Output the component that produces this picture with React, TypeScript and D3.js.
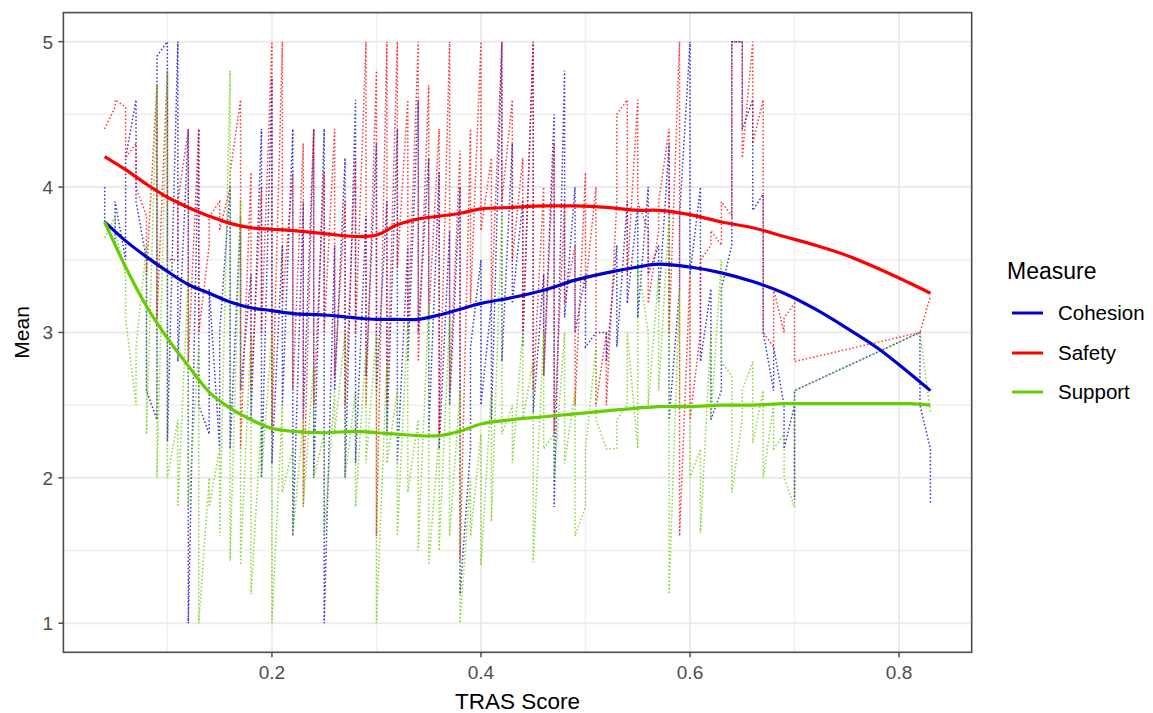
import React from "react";
import * as d3 from "d3";

// TRAS score positions (x values shared by all three measures)
const xValues = [
  0.04, 0.05, 0.06, 0.07, 0.08, 0.09, 0.10, 0.11, 0.12, 0.13, 0.14, 0.15, 0.16, 0.17, 0.18, 0.19,
  0.20, 0.21, 0.22, 0.23, 0.24, 0.25, 0.26, 0.27, 0.28, 0.29, 0.30, 0.31, 0.32, 0.33, 0.34, 0.35,
  0.36, 0.37, 0.38, 0.39, 0.40, 0.41, 0.42, 0.43, 0.44, 0.45, 0.46, 0.47, 0.48, 0.49, 0.50, 0.51,
  0.52, 0.53, 0.54, 0.55, 0.56, 0.57, 0.58, 0.59, 0.60, 0.61, 0.62, 0.63, 0.64, 0.65, 0.66, 0.67,
  0.68, 0.69, 0.70, 0.82, 0.83,
];

// Observed means at each x (several respondents share an x value)
const cohesionValues = [
  [4.0, 3.75], [3.6, 3.9], [3.5, 4.2], [4.6, 3.9], [3.5, 2.6], [2.4, 4.9], [5.0, 2.25], [5.0, 2.8],
  [4.4, 1.0], [4.4, 2.5], [2.3, 3.3], [2.2, 3.0], [4.0, 2.2], [3.8, 2.6], [3.4, 2.4], [4.4, 2.0],
  [4.75, 2.1], [3.6, 2.5], [4.4, 1.6], [3.9, 2.4], [4.4, 2.0], [4.4, 1.0], [3.6, 2.6], [4.2, 2.0],
  [4.6, 2.1], [3.8, 2.7], [4.3, 2.6], [3.9, 2.3], [4.4, 2.1], [3.6, 2.8], [4.6, 3.0], [4.2, 2.3],
  [4.1, 2.2], [3.7, 2.5], [4.0, 1.2], [2.2, 2.9], [3.5, 2.5], [3.2, 2.4], [5.0, 2.8], [4.3, 3.2],
  [3.9, 2.9], [5.0, 2.45], [3.4, 2.7], [4.5, 1.8], [4.8, 3.1], [4.0, 3.0], [3.4, 2.9], [3.0, 3.0],
  [3.0, 2.8], [3.6, 2.9], [3.9, 3.2], [3.87, 3.1], [4.0, 3.4], [3.6, 3.2], [4.3, 2.4], [3.3, 3.8],
  [5.0, 3.4], [4.0, 2.8], [3.3, 2.4], [2.6, 3.3], [3.6, 5.0], [5.0, 4.4], [4.6, 3.84], [3.95, 3.0],
  [2.6, 2.9], [2.5, 2.2], [2.5, 1.85, 2.6], [3.0, 2.5], [2.2, 1.83],
];

const safetyValues = [
  [4.4], [4.55, 4.6], [4.55, 4.2], [4.3, 4.0], [3.8, 3.4], [4.7, 3.1], [4.8, 3.5], [3.5, 3.9],
  [4.4, 2.8], [4.4, 3.0], [3.6, 3.8], [3.9, 3.7], [4.0, 4.1], [4.6, 2.2], [4.1, 2.6], [4.0, 3.0],
  [5.0, 2.3], [5.0, 3.2], [4.1, 2.6], [4.3, 1.8], [4.4, 2.5], [4.1, 3.0], [4.4, 2.7], [3.9, 2.5],
  [4.2, 3.0], [5.0, 2.5], [4.8, 1.6], [5.0, 2.5], [5.0, 3.45], [4.6, 3.0], [5.0, 2.8], [4.7, 3.1],
  [4.4, 2.3], [5.0, 2.6], [4.25, 1.43], [4.4, 3.2], [5.0, 3.7], [4.2, 3.2], [5.0, 3.9], [4.6, 3.5],
  [4.2, 3.0], [5.0, 2.6], [4.0, 2.7], [4.3, 2.3], [3.9, 3.2], [3.6, 2.5], [4.1, 3.3], [4.0, 2.5],
  [3.0, 2.5], [3.9, 4.5], [4.6, 3.4], [4.6, 3.9], [3.7, 3.2], [3.7, 3.9], [4.4, 3.0], [5.0, 1.6],
  [3.4, 2.4], [3.0, 3.5], [3.6, 3.7], [3.6, 3.9], [3.8, 5.0], [5.0, 4.2], [5.0, 4.3], [4.6, 3.0],
  [2.9, 3.3], [3.0, 3.1], [3.2, 2.8], [3.0], [3.25],
];

const supportValues = [
  [3.65], [3.8, 3.7], [3.4, 3.1], [2.5, 2.9], [3.6, 2.3], [4.7, 2.0], [4.8, 2.0], [2.4, 1.8],
  [3.4, 1.8], [2.9, 1.0], [2.0, 1.8], [2.2, 1.6], [4.8, 1.43], [3.9, 1.4], [3.0, 1.2], [2.4, 2.0],
  [3.0, 1.0], [2.5, 1.9], [2.2, 1.6], [2.4, 1.8], [2.8, 2.0], [2.3, 1.6], [2.6, 2.3], [3.0, 2.0],
  [2.6, 1.8], [2.9, 2.1], [3.0, 1.0], [2.8, 2.1], [2.6, 1.6], [3.1, 1.9], [2.4, 1.5], [3.2, 1.4],
  [2.3, 1.5], [3.1, 1.6], [2.6, 1.0], [2.0, 1.6], [2.3, 1.4], [2.6, 1.7], [3.8, 2.3], [2.5, 2.1],
  [3.0, 2.4], [2.8, 1.42], [3.0, 2.2], [2.3, 2.0], [3.0, 2.1], [2.6, 1.6], [1.8, 2.2], [2.9, 2.4],
  [2.2, 2.2], [2.2, 2.4], [2.5, 3.0], [2.2, 3.5], [3.0, 2.5], [3.4, 2.6], [3.8, 1.2], [3.3, 2.5],
  [2.5, 2.0], [2.2, 1.62], [3.0, 2.4], [3.5, 2.8], [2.7, 1.9], [2.4, 2.6], [2.8, 2.24], [2.6, 2.0],
  [2.5, 2.2], [2.3, 2.0], [1.8, 2.6], [3.0], [2.45],
];

// Loess smooth estimates
const smoothX = [
  0.04, 0.06, 0.08, 0.10, 0.12, 0.14, 0.16, 0.18, 0.20, 0.22, 0.25, 0.28, 0.30, 0.32, 0.34, 0.36,
  0.38, 0.40, 0.43, 0.46, 0.49, 0.52, 0.55, 0.57, 0.60, 0.63, 0.66, 0.69, 0.72, 0.75, 0.78, 0.81, 0.83,
];
const cohesionSmooth = [
  3.76, 3.63, 3.52, 3.42, 3.33, 3.27, 3.21, 3.17, 3.15, 3.13, 3.12, 3.10, 3.09, 3.09, 3.09, 3.12,
  3.16, 3.20, 3.24, 3.29, 3.36, 3.41, 3.45, 3.47, 3.45, 3.41, 3.35, 3.27, 3.16, 3.03, 2.89, 2.72, 2.60,
];
const safetySmooth = [
  4.21, 4.12, 4.02, 3.93, 3.86, 3.80, 3.75, 3.72, 3.71, 3.70, 3.68, 3.66, 3.67, 3.74, 3.78, 3.80,
  3.82, 3.85, 3.86, 3.87, 3.87, 3.86, 3.84, 3.84, 3.81, 3.76, 3.72, 3.66, 3.60, 3.53, 3.44, 3.34, 3.27,
];
const supportSmooth = [
  3.76, 3.45, 3.18, 2.96, 2.77, 2.59, 2.48, 2.40, 2.34, 2.32, 2.31, 2.32, 2.31, 2.30, 2.29, 2.29,
  2.32, 2.37, 2.40, 2.42, 2.44, 2.46, 2.48, 2.49, 2.49, 2.50, 2.50, 2.51, 2.51, 2.51, 2.51, 2.51, 2.50,
];

const measures = ["Cohesion", "Safety", "Support"];
const colors = ["#0000CD", "#FF0000", "#66CD00"];
const xTicks = [0.2, 0.4, 0.6, 0.8];
const xMinor = [0.1, 0.3, 0.5, 0.7];
const yTicks = [1, 2, 3, 4, 5];
const yMinor = [1.5, 2.5, 3.5, 4.5];

const W = 1153;
const H = 713;
const panel = { left: 63.4, right: 971.7, top: 12.6, bottom: 652.3 };
const FONT = "Arial, 'Liberation Sans', sans-serif";

export default function App() {
  const x = d3.scaleLinear().domain([0.0005, 0.8695]).range([panel.left, panel.right]);
  const y = d3.scaleLinear().domain([0.8, 5.2]).range([panel.bottom, panel.top]);

  const flatten = (vals: number[][]) => {
    const pts: [number, number][] = [];
    vals.forEach((arr, i) => arr.forEach((v) => pts.push([xValues[i], v])));
    return pts;
  };
  const rawSeries = [cohesionValues, safetyValues, supportValues].map(flatten);
  const smoothSeries = [cohesionSmooth, safetySmooth, supportSmooth].map((s) =>
    s.map((v, i) => [smoothX[i], v] as [number, number])
  );

  const rawLine = d3
    .line<[number, number]>()
    .x((d) => x(d[0]))
    .y((d) => y(d[1]));
  const smoothLine = d3
    .line<[number, number]>()
    .x((d) => x(d[0]))
    .y((d) => y(d[1]))
    .curve(d3.curveCatmullRom.alpha(0.5));

  const legendY = [313, 353, 392];

  return (
    <svg
      width={W}
      height={H}
      style={{ position: "absolute", left: 0, top: 0, background: "#fff" }}
      fontFamily={FONT}
    >
      <rect x={0} y={0} width={W} height={H} fill="#fff" />
      <defs>
        <clipPath id="panelClip">
          <rect x={panel.left} y={panel.top} width={panel.right - panel.left} height={panel.bottom - panel.top} />
        </clipPath>
      </defs>
      {/* grid */}
      {xMinor.map((t) => (
        <line key={"xm" + t} x1={x(t)} x2={x(t)} y1={panel.top} y2={panel.bottom} stroke="#F0F0F0" strokeWidth={1.5} />
      ))}
      {yMinor.map((t) => (
        <line key={"ym" + t} x1={panel.left} x2={panel.right} y1={y(t)} y2={y(t)} stroke="#F0F0F0" strokeWidth={1.5} />
      ))}
      {xTicks.map((t) => (
        <line key={"xg" + t} x1={x(t)} x2={x(t)} y1={panel.top} y2={panel.bottom} stroke="#EBEBEB" strokeWidth={2} />
      ))}
      {yTicks.map((t) => (
        <line key={"yg" + t} x1={panel.left} x2={panel.right} y1={y(t)} y2={y(t)} stroke="#EBEBEB" strokeWidth={2} />
      ))}

      <g clipPath="url(#panelClip)">
        {rawSeries.map((pts, i) => (
          <path
            key={"raw" + i}
            d={rawLine(pts) || ""}
            fill="none"
            stroke={colors[i]}
            strokeWidth={1.5}
            strokeDasharray="1.5 2.2"
            strokeOpacity={0.8}
          />
        ))}
        {smoothSeries.map((pts, i) => (
          <path
            key={"sm" + i}
            d={smoothLine(pts) || ""}
            fill="none"
            stroke={colors[i]}
            strokeWidth={3.2}
            strokeLinejoin="round"
          />
        ))}
      </g>

      {/* panel border */}
      <rect
        x={panel.left}
        y={panel.top}
        width={panel.right - panel.left}
        height={panel.bottom - panel.top}
        fill="none"
        stroke="#4D4D4D"
        strokeWidth={1.6}
      />

      {/* x axis */}
      {xTicks.map((t) => (
        <g key={"xt" + t}>
          <line x1={x(t)} x2={x(t)} y1={panel.bottom} y2={panel.bottom + 5} stroke="#4D4D4D" strokeWidth={1.5} />
          <text x={x(t)} y={679} textAnchor="middle" fontSize={19} fill="#4D4D4D">
            {t.toFixed(1)}
          </text>
        </g>
      ))}
      {/* y axis */}
      {yTicks.map((t) => (
        <g key={"yt" + t}>
          <line x1={panel.left - 5} x2={panel.left} y1={y(t)} y2={y(t)} stroke="#4D4D4D" strokeWidth={1.5} />
          <text x={53} y={y(t) + 7} textAnchor="end" fontSize={19} fill="#4D4D4D">
            {t}
          </text>
        </g>
      ))}

      <text x={(panel.left + panel.right) / 2} y={709} textAnchor="middle" fontSize={22.5} fill="#000">
        TRAS Score
      </text>
      <text
        transform={`translate(29, ${(panel.top + panel.bottom) / 2}) rotate(-90)`}
        textAnchor="middle"
        fontSize={21}
        fill="#000"
      >
        Mean
      </text>

      {/* legend */}
      <text x={1007} y={279} fontSize={23} fill="#000">
        Measure
      </text>
      {measures.map((m, i) => (
        <g key={m}>
          <line x1={1012} x2={1043} y1={legendY[i]} y2={legendY[i]} stroke={colors[i]} strokeWidth={3} />
          <text x={1058} y={legendY[i] + 7} fontSize={20.5} fill="#000">
            {m}
          </text>
        </g>
      ))}
    </svg>
  );
}
